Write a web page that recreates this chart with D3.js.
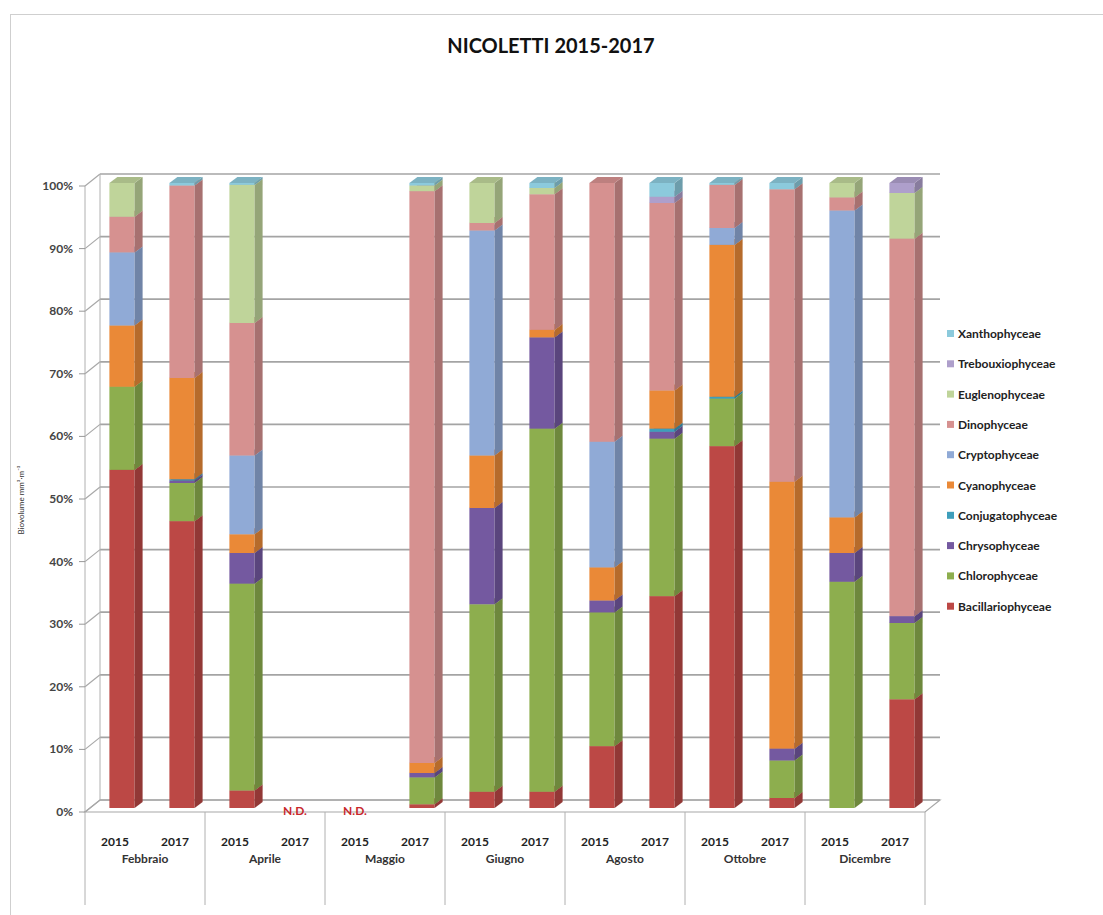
<!DOCTYPE html>
<html>
<head>
<meta charset="utf-8">
<script src="https://d3js.org/d3.v7.min.js"></script>
<style>
  html, body { margin: 0; padding: 0; background: #fff; }
  svg { display: block; }
  text { font-family: Lato, "Open Sans", "Liberation Sans", sans-serif; }
</style>
</head>
<body>
<svg id="chart" width="1103" height="915"></svg>
<script>
// Months and sampling years (two bars per month)
const months = ["Febbraio", "Aprile", "Maggio", "Giugno", "Agosto", "Ottobre", "Dicembre"];
const years = ["2015", "2017"];
const yTicks = [0, 0.1, 0.2, 0.3, 0.4, 0.5, 0.6, 0.7, 0.8, 0.9, 1.0];

// Phytoplankton classes, stacking order bottom to top
const classes = ["Bacillariophyceae", "Chlorophyceae", "Chrysophyceae", "Conjugatophyceae",
  "Cyanophyceae", "Cryptophyceae", "Dinophyceae", "Euglenophyceae", "Trebouxiophyceae", "Xanthophyceae"];
const classColors = ["#BC4845", "#8DAE4E", "#7459A0", "#3E9EBB", "#EA8937",
  "#90AAD6", "#D69190", "#BFD49A", "#AE9FCB", "#8CCADC"];

// Relative biovolume (%) per bar: Feb15, Feb17, Apr15, Apr17, Mag15, Mag17, Giu15, Giu17, Ago15, Ago17, Ott15, Ott17, Dic15, Dic17
const bacillariophyceae = [54.1, 45.9, 2.8, 0, 0, 0.6, 2.6, 2.6, 9.9, 33.9, 57.9, 1.6, 0, 17.4];
const chlorophyceae     = [13.3, 6.1, 33.1, 0, 0, 4.3, 30.0, 58.1, 21.4, 25.2, 7.6, 6.0, 36.2, 12.2];
const chrysophyceae     = [0, 0.4, 4.9, 0, 0, 0.7, 15.4, 14.6, 1.9, 1.1, 0, 1.9, 4.6, 1.1];
const conjugatophyceae  = [0, 0.2, 0, 0, 0, 0, 0, 0, 0, 0.5, 0.3, 0, 0, 0];
const cyanophyceae      = [9.8, 16.2, 3.0, 0, 0, 1.6, 8.4, 1.2, 5.3, 6.1, 24.3, 42.7, 5.7, 0];
const cryptophyceae     = [11.7, 0, 12.6, 0, 0, 0, 36.0, 0, 20.1, 0, 2.7, 0, 49.1, 0];
const dinophyceae       = [5.7, 30.8, 21.2, 0, 0, 91.5, 1.2, 21.7, 41.4, 30.0, 6.9, 46.8, 2.1, 60.4];
const euglenophyceae    = [5.4, 0, 22.1, 0, 0, 0.9, 6.4, 1.0, 0, 0, 0, 0, 2.3, 7.3];
const trebouxiophyceae  = [0, 0, 0, 0, 0, 0, 0, 0, 0, 1.0, 0, 0, 0, 1.6];
const xanthophyceae     = [0, 0.4, 0.3, 0, 0, 0.4, 0, 0.8, 0, 2.2, 0.3, 1.0, 0, 0];
// Bars with no data
const noData = ["Aprile|2017", "Maggio|2015"];

const seriesValues = [bacillariophyceae, chlorophyceae, chrysophyceae, conjugatophyceae,
  cyanophyceae, cryptophyceae, dinophyceae, euglenophyceae, trebouxiophyceae, xanthophyceae];

const keys = [];
months.forEach(m => years.forEach(y => keys.push(m + "|" + y)));
const rows = keys.map((k, i) => {
  const r = { key: k };
  classes.forEach((c, s) => r[c] = seriesValues[s][i]);
  return r;
});
const stacked = d3.stack().keys(classes).offset(d3.stackOffsetExpand)(rows);

const svg = d3.select("#chart");

// outer frame
svg.append("rect").attr("x", 10.5).attr("y", 14.5).attr("width", 1100).attr("height", 920)
  .attr("fill", "none").attr("stroke", "#cfcfcf").attr("stroke-width", 1);

// title
svg.append("text").attr("x", 551).attr("y", 53).attr("text-anchor", "middle")
  .attr("font-size", 20).attr("font-weight", "bold").attr("fill", "#111")
  .text("NICOLETTI 2015-2017");

// geometry of the 3D box
const left = 85, right = 925;
const depthX = 15, depthY = -12;
const x = d3.scaleBand().domain(keys).range([left, right]).paddingInner(0.58).paddingOuter(0.29);
const yFront = d3.scaleLinear().domain([0, 1]).range([812, 186]);
const yBar = d3.scaleLinear().domain([0, 1]).range([808, 183]);
const barShift = 7, barDx = 8, barDy = -6;

const grid = svg.append("g");
// back wall gridlines
yTicks.forEach(t => {
  const yb = yFront(t) + depthY;
  grid.append("line").attr("x1", left + depthX).attr("x2", right + depthX)
    .attr("y1", yb).attr("y2", yb).attr("stroke", "#a4a4a4").attr("stroke-width", 1.7);
  // side wall
  grid.append("line").attr("x1", left).attr("y1", yFront(t))
    .attr("x2", left + depthX).attr("y2", yb).attr("stroke", "#a8a8a8").attr("stroke-width", 1.2);
});
// wall and floor edges
grid.append("line").attr("x1", left + depthX).attr("x2", left + depthX)
  .attr("y1", yFront(0) + depthY).attr("y2", yFront(1) + depthY).attr("stroke", "#b0b0b0");
grid.append("line").attr("x1", left).attr("x2", left)
  .attr("y1", yFront(0)).attr("y2", yFront(1)).attr("stroke", "#b0b0b0");
grid.append("path")
  .attr("d", `M${left},${yFront(0)}L${right},${yFront(0)}L${right + depthX},${yFront(0) + depthY}L${left + depthX},${yFront(0) + depthY}Z`)
  .attr("fill", "none").attr("stroke", "#a8a8a8").attr("stroke-width", 1.2);

// y axis ticks and labels
const yAxis = svg.append("g");
yTicks.forEach(t => {
  yAxis.append("line").attr("x1", left - 6).attr("x2", left)
    .attr("y1", yFront(t)).attr("y2", yFront(t)).attr("stroke", "#999");
  yAxis.append("text").attr("x", left - 12).attr("y", yFront(t) + 4)
    .attr("text-anchor", "end").attr("font-size", 12).attr("font-weight", "bold").attr("fill", "#444")
    .text(d3.format(".0%")(t));
});
// y axis title
svg.append("text").attr("transform", "translate(24,500) rotate(-90)")
  .attr("text-anchor", "middle").attr("font-size", 8).attr("fill", "#333")
  .text("Biovolume mm³·m⁻³");

// stacked 3D bars
const bars = svg.append("g");
const bw = x.bandwidth();
rows.forEach((r, i) => {
  stacked.forEach((s, si) => {
    const d = s[i];
    if (!(d[1] - d[0] > 0)) return;
    const x0 = x(r.key) + barShift, x1 = x0 + bw;
    const y0 = yBar(d[0]), y1 = yBar(d[1]);
    const base = d3.color(classColors[si]);
    const g = bars.append("g");
    g.append("rect").attr("x", x0).attr("y", y1).attr("width", bw).attr("height", y0 - y1)
      .attr("fill", base.formatHex());
    g.append("path")
      .attr("d", `M${x1},${y1}L${x1 + barDx},${y1 + barDy}L${x1 + barDx},${y0 + barDy}L${x1},${y0}Z`)
      .attr("fill", base.darker(0.7).formatHex());
    g.append("path")
      .attr("d", `M${x0},${y1}L${x0 + barDx},${y1 + barDy}L${x1 + barDx},${y1 + barDy}L${x1},${y1}Z`)
      .attr("fill", base.darker(0.35).formatHex());
  });
});

// N.D. labels
noData.forEach(k => {
  svg.append("text").attr("x", x(k) + x.bandwidth() / 2).attr("y", 815)
    .attr("text-anchor", "middle").attr("font-size", 12).attr("font-weight", "bold")
    .attr("fill", "#c8282c").text("N.D.");
});

// category axis: years and months
const cat = svg.append("g");
d3.range(months.length + 1).forEach(k => {
  const xx = left + k * 120;
  cat.append("line").attr("x1", xx).attr("x2", xx).attr("y1", yFront(0)).attr("y2", 905)
    .attr("stroke", "#b0b0b0");
});
keys.forEach(k => {
  cat.append("text").attr("x", x(k) + bw / 2).attr("y", 846)
    .attr("text-anchor", "middle").attr("font-size", 12).attr("font-weight", "bold").attr("fill", "#222")
    .text(k.split("|")[1]);
});
months.forEach((m, k) => {
  cat.append("text").attr("x", left + 60 + k * 120).attr("y", 863)
    .attr("text-anchor", "middle").attr("font-size", 12).attr("font-weight", "bold").attr("fill", "#333")
    .text(m);
});

// legend, listed top (Xanthophyceae) to bottom (Bacillariophyceae)
const legend = svg.append("g");
classes.slice().reverse().forEach((c, j) => {
  const ci = classes.indexOf(c);
  const yy = 334 + j * 30.3;
  legend.append("rect").attr("x", 947).attr("y", yy - 4).attr("width", 7).attr("height", 7)
    .attr("fill", classColors[ci]);
  legend.append("text").attr("x", 958).attr("y", yy + 4)
    .attr("font-size", 12).attr("font-weight", "bold").attr("fill", "#222").text(c);
});
</script>
</body>
</html>
